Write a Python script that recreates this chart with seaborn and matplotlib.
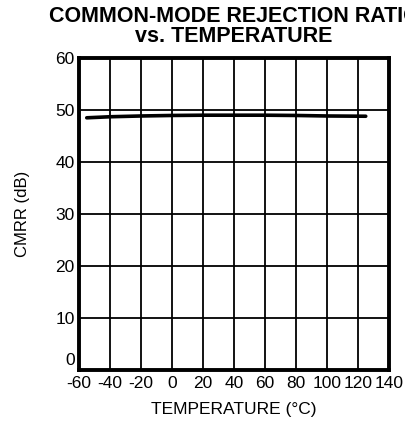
import matplotlib
matplotlib.use('Agg')
import matplotlib.pyplot as plt
import matplotlib.transforms as mtransforms
import seaborn as sns
import pandas as pd

# CMRR curve
temps = [-55, -40, -20, 0, 20, 40, 60, 80, 100, 125]
cmrr = [48.5, 48.7, 48.85, 48.95, 49.0, 49.0, 49.0, 48.95, 48.85, 48.8]

x_ticks = [-60, -40, -20, 0, 20, 40, 60, 80, 100, 120, 140]
x_labels = ["-60", "-40", "-20", "0", "20", "40", "60", "80", "100", "120", "140"]
y_ticks = [0, 10, 20, 30, 40, 50, 60]

df = pd.DataFrame({"temp": temps, "cmrr": cmrr})

sns.set_theme(style="white")
plt.rcParams['font.family'] = ['Liberation Sans', 'DejaVu Sans']

fig = plt.figure(figsize=(4.05, 4.23), dpi=100)
ax = fig.add_axes([79 / 405, 1 - 370 / 423, 310 / 405, 312 / 423])

sns.lineplot(data=df, x="temp", y="cmrr", ax=ax, color="black", linewidth=2.6)

ax.set_xlim(-60, 140)
ax.set_ylim(0, 60)
ax.set_xticks(x_ticks)
ax.set_xticklabels(x_labels)
ax.set_yticks(y_ticks)
ax.grid(True, color="black", linewidth=1.3)
ax.tick_params(axis="both", length=0, labelsize=12.5, colors="black")
ax.tick_params(axis="x", pad=4)
ax.tick_params(axis="y", pad=3)
for s in ax.spines.values():
    s.set_color("black")
    s.set_linewidth(2.8)

# lift the "0" on the y axis clear of the x tick labels, as in the original
zero_lbl = ax.get_yticklabels()[0]
zero_lbl.set_transform(zero_lbl.get_transform() +
                       mtransforms.ScaledTranslation(0, 8 / 72, fig.dpi_scale_trans))

ax.set_xlabel("TEMPERATURE (°C)", fontsize=12.5, labelpad=8, color="black")
ax.set_ylabel("CMRR (dB)", fontsize=12, labelpad=18, color="black")

fig.text(234 / 405, 1 - 17 / 423, "COMMON-MODE REJECTION RATIO", ha="center", va="center",
         fontsize=15.5, fontweight="bold", color="black")
fig.text(234 / 405, 1 - 36 / 423, "vs. TEMPERATURE", ha="center", va="center",
         fontsize=15.5, fontweight="bold", color="black")

fig.savefig("out.png", dpi=100, facecolor="white")
